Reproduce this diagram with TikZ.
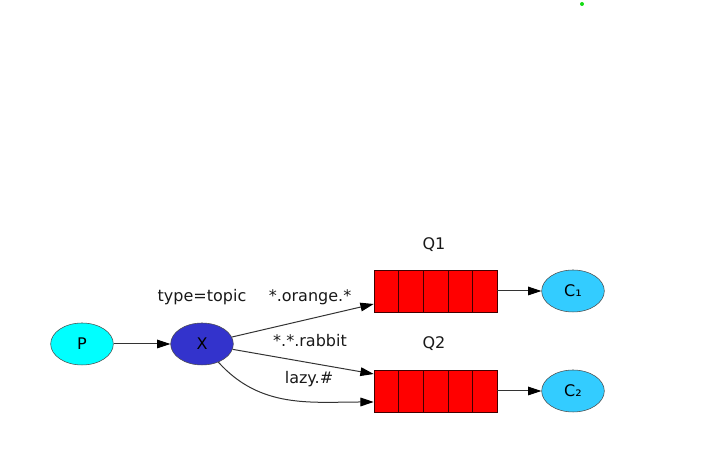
\documentclass[tikz,border=0pt]{standalone}
\usepackage{fontspec}
\setmainfont{DejaVu Sans}
\usetikzlibrary{arrows.meta,shapes.geometric}
\definecolor{producer}{RGB}{0,255,255}
\definecolor{exchange}{RGB}{51,51,204}
\definecolor{consumer}{RGB}{51,204,255}
\definecolor{dotgreen}{RGB}{20,220,20}
\begin{document}
\begin{tikzpicture}[x=0.75pt,y=0.75pt,
        font=\fontsize{12}{14}\selectfont,
        proc/.style={draw=black!70, ellipse, minimum width=47pt, minimum height=31.5pt, inner sep=0pt},
        cell/.style={draw=red!25!black, fill=red, minimum width=18.45pt, minimum height=31.5pt, inner sep=0pt},
        link/.style={draw=black!80, line width=0.75pt, -{Triangle[length=10pt,width=6.5pt,color=black]}},
        lbl/.style={inner sep=0pt, text=black!90}]
            \useasboundingbox (0,0) rectangle (715,459);
            \fill[dotgreen] (582,455) circle (1.5pt);

            \node(p) at (82,115) [proc, fill=producer] {P};
            \node(x) at (202,115) [proc, fill=exchange] {X};
            \node(topic) at (202,162) [lbl] {type=topic};

            \foreach \i in {0,...,4} {
                \node(qa\i) at ({386.3+24.6*\i},168) [cell] {};
                \node(qb\i) at ({386.3+24.6*\i},68) [cell] {};
            }
            \node(q1) at (434,214) [lbl] {Q1};
            \node(q2) at (434,115) [lbl] {Q2};

            \node(c1) at (573,168) [proc, fill=consumer] {C₁};
            \node(c2) at (573,68) [proc, fill=consumer] {C₂};

            \node(orange) at (310,162) [lbl] {*.orange.*};
            \node(rabbit) at (310,118) [lbl] {*.*.rabbit};
            \node(lazy) at (309,80) [lbl] {lazy.\#};

            \draw[link] (p) -- (x);
            \draw[link] (x) -- ([yshift=-9.75pt]qa0.west);
            \draw[link] (x) -- ([yshift=12.75pt]qb0.west);
            \draw[link] (x) to[out=-48, in=180] ([yshift=-8.25pt]qb0.west);
            \draw[link] (qa4) -- (c1);
            \draw[link] (qb4) -- (c2);
        \end{tikzpicture}
\end{document}
